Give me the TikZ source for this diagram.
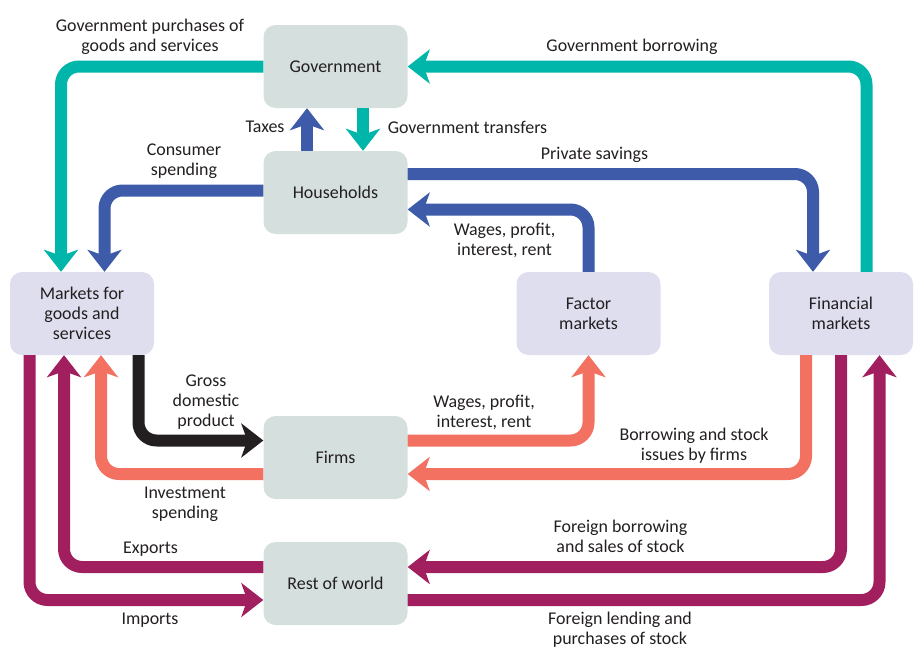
\documentclass[tikz,border=0pt]{standalone}
\usepackage{fontspec}
\setmainfont{Carlito}
\usetikzlibrary{arrows.meta}
\definecolor{boxgreen}{RGB}{213,224,222}
\definecolor{boxlav}{RGB}{222,222,239}
\definecolor{flowteal}{RGB}{0,181,169}
\definecolor{flowblue}{RGB}{62,91,169}
\definecolor{flowsalmon}{RGB}{243,113,97}
\definecolor{flowpurple}{RGB}{161,30,95}
\definecolor{flowblack}{RGB}{35,31,32}
\definecolor{textgrey}{RGB}{35,31,32}

\begin{document}
\begin{tikzpicture}[line join=round,
    font=\fontsize{18}{20}\selectfont, text=textgrey,
    sector/.style={rounded corners=12bp,minimum width=144bp,minimum height=83bp,inner sep=0pt,align=center},
    agent/.style={sector,fill=boxgreen},
    market/.style={sector,fill=boxlav},
    flow/.style={line width=12bp,rounded corners=18bp,-{Stealth[length=22bp,width=34bp,inset=6bp]}},
    lbl/.style={align=center,inner sep=0pt}]
      %%
      \useasboundingbox (0bp,0bp) rectangle (922bp,-666bp);
      \node (gov) at (335.5bp,-66.5bp) [agent] {Government};
      \node (hh) at (335.5bp,-192.5bp) [agent] {Households};
      \node (mkt) at (82.0bp,-313.5bp) [market] {Markets for\\goods and\\services};
      \node (fac) at (588.5bp,-313.5bp) [market] {Factor\\markets};
      \node (fin) at (841.0bp,-313.5bp) [market] {Financial\\markets};
      \node (firms) at (335.5bp,-457.5bp) [agent] {Firms};
      \node (row) at (335.5bp,-583.5bp) [agent] {Rest of world};
      \draw [flow,flowteal] (gov.west) -| ([xshift=-21bp]mkt.north);
      \node (gpurch) at (150.0bp,-37.0bp) [lbl] {Government purchases of\\goods and services};
      \draw [flow,flowteal] ([xshift=25.5bp]fin.north) |- (gov.east);
      \node (gborrow) at (632.0bp,-47.0bp) [lbl] {Government borrowing};
      \draw [flow,flowblue] ([xshift=-28.5bp]hh.north) -- ([xshift=-28.5bp]gov.south);
      \node (taxes) at (265.0bp,-127.0bp) [lbl] {Taxes};
      \draw [flow,flowteal] ([xshift=27.5bp]gov.south) -- ([xshift=27.5bp]hh.north);
      \node (transf) at (467.5bp,-127.0bp) [lbl] {Government transfers};
      \draw [flow,flowblue] ([yshift=2bp]hh.west) -| ([xshift=22.5bp]mkt.north);
      \node (cons) at (184.0bp,-161.0bp) [lbl] {Consumer\\spending};
      \draw [flow,flowblue] ([yshift=18.5bp]hh.east) -| ([xshift=-28bp]fin.north);
      \node (psav) at (594.5bp,-155.0bp) [lbl] {Private savings};
      \draw [flow,flowblue] (fac.north) |- ([yshift=-17bp]hh.east);
      \node (wagesh) at (504.5bp,-240.5bp) [lbl] {Wages, profit,\\interest, rent};
      \draw [flow,flowblack] ([xshift=56.5bp]mkt.south) |- ([yshift=17bp]firms.west);
      \node (gdp) at (206.0bp,-402.0bp) [lbl] {Gross\\domestic\\product};
      \draw [flow,flowsalmon] ([yshift=-16.5bp]firms.west) -| ([xshift=19bp]mkt.south);
      \node (invest) at (185.0bp,-504.0bp) [lbl] {Investment\\spending};
      \draw [flow,flowsalmon] ([yshift=17bp]firms.east) -| (fac.south);
      \node (wagesf) at (484.0bp,-412.0bp) [lbl] {Wages, profit,\\interest, rent};
      \draw [flow,flowsalmon] ([xshift=-35bp]fin.south) |- ([yshift=-16.5bp]firms.east);
      \node (fborrow) at (694.0bp,-446.0bp) [lbl] {Borrowing and stock\\issues by firms};
      \draw [flow,flowpurple] ([yshift=16.5bp]row.west) -| ([xshift=-18bp]mkt.south);
      \node (exports) at (150.5bp,-549.0bp) [lbl] {Exports};
      \draw [flow,flowpurple] ([xshift=-52.5bp]mkt.south) |- ([yshift=-16.5bp]row.west);
      \node (imports) at (150.0bp,-620.0bp) [lbl] {Imports};
      \draw [flow,flowpurple] (fin.south) |- ([yshift=16.5bp]row.east);
      \node (forborrow) at (620.5bp,-536.5bp) [lbl] {Foreign borrowing\\and sales of stock};
      \draw [flow,flowpurple] ([yshift=-16.5bp]row.east) -| ([xshift=38.5bp]fin.south);
      \node (forlend) at (620.0bp,-630.0bp) [lbl] {Foreign lending and\\purchases of stock};
    \end{tikzpicture}
\end{document}
